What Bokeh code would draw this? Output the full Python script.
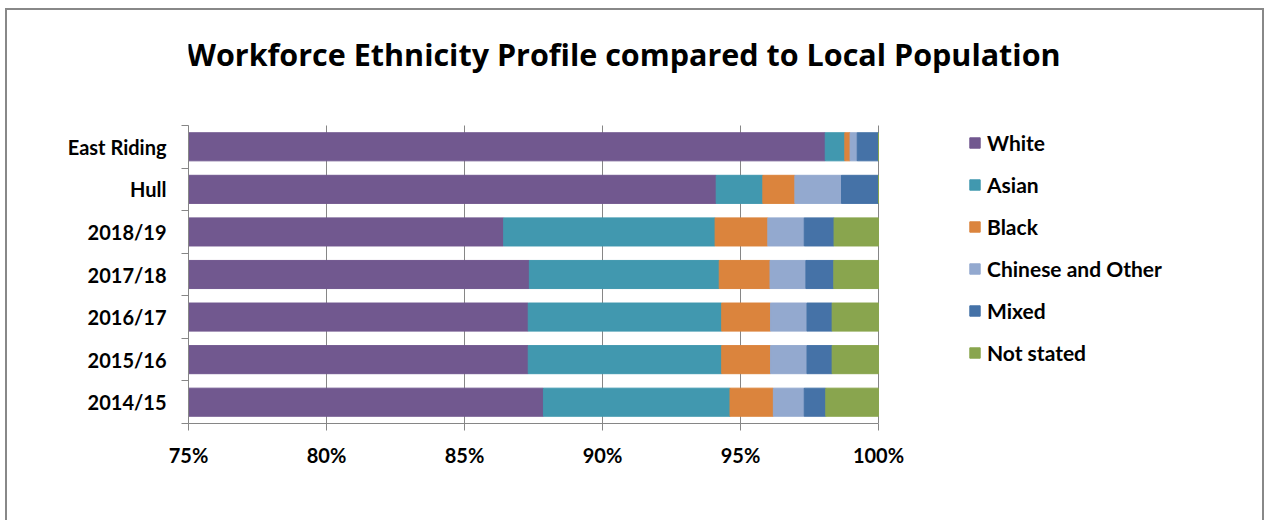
from bokeh.plotting import figure
from bokeh.models import (ColumnDataSource, Range1d, FixedTicker, PrintfTickFormatter,
                          Label)
from bokeh.embed import file_html
from bokeh.resources import INLINE

# ---- data (percent of workforce / population) ----
categories = ["East Riding", "Hull", "2018/19", "2017/18", "2016/17", "2015/16", "2014/15"]
white      = [98.07, 94.12, 86.42, 87.35, 87.31, 87.31, 87.86]
asian      = [0.71, 1.69, 7.66, 6.88, 7.01, 7.01, 6.76]
black      = [0.19, 1.16, 1.91, 1.84, 1.77, 1.77, 1.57]
chinese    = [0.26, 1.69, 1.32, 1.30, 1.32, 1.32, 1.12]
mixed      = [0.77, 1.34, 1.08, 1.01, 0.91, 0.91, 0.78]
not_stated = [0.00, 0.00, 1.61, 1.62, 1.68, 1.68, 1.91]

series_names = ["White", "Asian", "Black", "Chinese and Other", "Mixed", "Not stated"]
series_keys = ["white", "asian", "black", "chinese", "mixed", "not_stated"]
colors = ["#71588F", "#4198AF", "#DB843D", "#93A9CF", "#4572A7", "#89A54E"]
x_ticks = [75, 80, 85, 90, 95, 100]
title_text = "Workforce Ethnicity Profile compared to Local Population"

n = len(categories)
ypos = [n - 0.5 - i for i in range(n)]
source = ColumnDataSource(dict(y=ypos, white=white, asian=asian, black=black,
                               chinese=chinese, mixed=mixed, not_stated=not_stated))

FONT = "Lato"
GREY = "#868686"

# geometry (figure placed at page offset 7,10 inside a drawn border)
FIG_W, FIG_H = 1255, 510
LEFT, BOTTOM = 181, 97
frame_w = FIG_W - LEFT
frame_h = FIG_H - BOTTOM
px_x = 690 / 25.0          # pixels per percent on the value axis
px_y = 298 / float(n)      # pixels per category band
x_end = 75 + frame_w / px_x
y_end = frame_h / px_y

p = figure(width=FIG_W, height=FIG_H, output_backend="svg", toolbar_location=None,
           x_range=Range1d(75, x_end), y_range=Range1d(0, y_end),
           min_border_left=LEFT, min_border_right=0, min_border_top=0,
           min_border_bottom=BOTTOM, title=None)
p.margin = (10, 0, 0, 7)
p.styles = {"box-shadow": "0 0 0 2px #888888"}
p.outline_line_color = None
p.background_fill_color = "white"
p.border_fill_color = "white"
p.xgrid.visible = False
p.ygrid.visible = False

# vertical gridlines at the value ticks, limited to the category area
p.segment(x0=x_ticks, y0=[0] * len(x_ticks), x1=x_ticks, y1=[n] * len(x_ticks),
          line_color=GREY, line_width=1, level="underlay")

p.hbar_stack(series_keys, y="y", height=0.66, color=colors, source=source,
             legend_label=series_names)

# x axis
p.xaxis.bounds = (75, 100)
p.xaxis.ticker = FixedTicker(ticks=x_ticks)
p.xaxis.formatter = PrintfTickFormatter(format="%d%%")
p.xaxis.axis_line_color = GREY
p.xaxis.major_tick_line_color = GREY
p.xaxis.major_tick_out = 7
p.xaxis.major_tick_in = 0
p.xaxis.minor_tick_line_color = None
p.xaxis.major_label_text_font = FONT
p.xaxis.major_label_text_font_style = "bold"
p.xaxis.major_label_text_font_size = "20px"
p.xaxis.major_label_text_color = "black"
p.xaxis.major_label_standoff = 12

# y axis: labels at centres, ticks at boundaries
p.yaxis.bounds = (0, n)
p.yaxis.ticker = FixedTicker(ticks=ypos, minor_ticks=list(range(n + 1)))
p.yaxis.major_label_overrides = {y: c for y, c in zip(ypos, categories)}
p.yaxis.axis_line_color = GREY
p.yaxis.major_tick_line_color = None
p.yaxis.major_tick_out = 0
p.yaxis.major_tick_in = 0
p.yaxis.minor_tick_line_color = GREY
p.yaxis.minor_tick_out = 7
p.yaxis.minor_tick_in = 0
p.yaxis.major_label_text_font = FONT
p.yaxis.major_label_text_font_style = "bold"
p.yaxis.major_label_text_font_size = "20px"
p.yaxis.major_label_text_color = "black"
p.yaxis.major_label_standoff = 15

# legend (inside the wide frame, right of the bars)
lg = p.legend[0]
lg.location = (780, 58)
lg.padding = 0
lg.margin = 0
lg.border_line_color = None
lg.background_fill_alpha = 0
lg.glyph_width = 13
lg.glyph_height = 13
lg.label_standoff = 6
lg.label_height = 26
lg.spacing = 16
lg.label_text_font = FONT
lg.label_text_font_style = "bold"
lg.label_text_font_size = "21px"
lg.label_text_color = "black"

# title
title = Label(x=75 + (623 - 188) / px_x, y=(423 - 53) / px_y, text=title_text,
              text_align="center", text_baseline="middle", text_font="Open Sans",
              text_font_style="bold", text_font_size="30.5px", text_color="black")
p.add_layout(title)

open("out.html", "w").write(file_html(p, INLINE))
